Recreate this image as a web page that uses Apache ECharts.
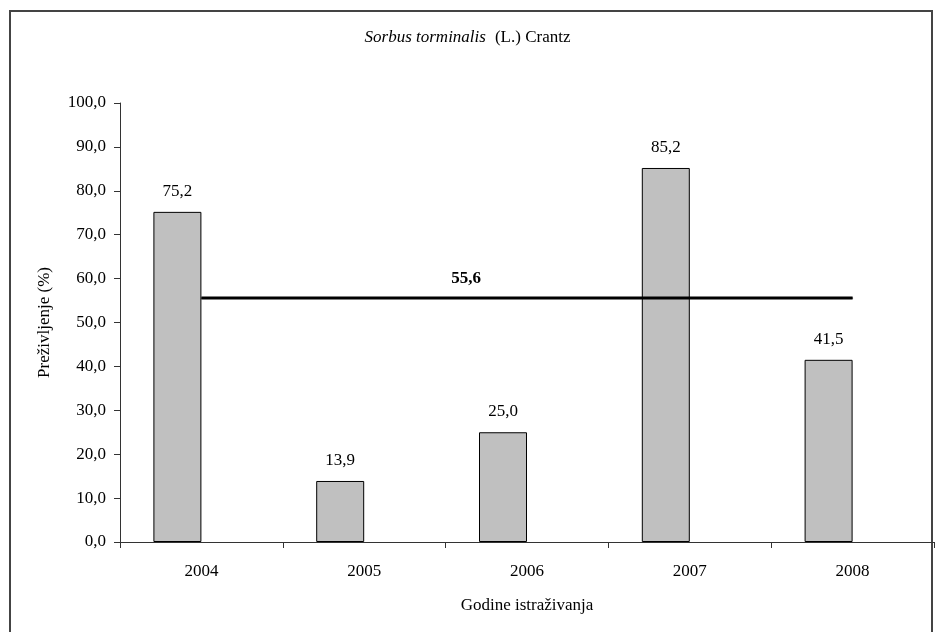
<!DOCTYPE html>
<html>
<head>
<meta charset="utf-8">
<script src="https://cdn.jsdelivr.net/npm/echarts@6/dist/echarts.min.js"></script>
<style>
    html, body { margin: 0; padding: 0; background: #fff; }
    #chart { width: 935px; height: 632px; }
</style>
</head>
<body>
<div id="chart"></div>
<script>
    // godine i prezivljenje
    var years = ['2004', '2005', '2006', '2007', '2008'];
    var survival = [75.2, 13.9, 25.0, 85.2, 41.5];
    var average = 55.6;
    var yMin = 0, yMax = 100, yStep = 10;

    var chart = echarts.init(document.getElementById('chart'));
    var font = 'Liberation Serif, Times New Roman, serif';
    var fs = 17;

    function fmt(v) {
        return Number(v).toFixed(1).replace('.', ',');
    }

    var avgData = years.map(function (y, i) {
        var item = {value: average};
        if (i === 1) {
            item.label = {
                show: true,
                position: 'top',
                distance: 10,
                offset: [102, 0],
                formatter: function () { return fmt(average); },
                fontFamily: font,
                fontSize: fs,
                fontWeight: 'bold',
                color: '#000'
            };
        }
        return item;
    });

    var option = {
        animation: false,
        backgroundColor: '#fff',
        textStyle: {fontFamily: font, color: '#000'},
        title: {
            left: 'center',
            top: 24,
            text: '{i|Sorbus torminalis}  {n|(L.) Crantz}',
            textStyle: {
                fontWeight: 'normal',
                rich: {
                    i: {fontFamily: font, fontSize: fs, fontStyle: 'italic', fontWeight: 'normal', color: '#000'},
                    n: {fontFamily: font, fontSize: fs, fontWeight: 'normal', color: '#000'}
                }
            }
        },
        graphic: [{
            type: 'rect',
            shape: {x: 10, y: 11, width: 922, height: 640},
            style: {fill: 'none', stroke: '#444', lineWidth: 2},
            silent: true
        }],
        grid: {left: 120, right: 1, top: 103, bottom: 90},
        xAxis: {
            type: 'category',
            data: years,
            boundaryGap: true,
            name: 'Godine istraživanja',
            nameLocation: 'middle',
            nameGap: 55,
            nameTextStyle: {fontFamily: font, fontSize: fs, color: '#000'},
            axisLine: {lineStyle: {color: '#333', width: 1}},
            axisTick: {show: true, length: 6, lineStyle: {color: '#333'}},
            axisLabel: {fontFamily: font, fontSize: fs, color: '#000', margin: 21}
        },
        yAxis: {
            type: 'value',
            min: yMin,
            max: yMax,
            interval: yStep,
            name: 'Preživljenje (%)',
            nameLocation: 'middle',
            nameGap: 67,
            nameTextStyle: {fontFamily: font, fontSize: fs, color: '#000'},
            axisLine: {show: true, lineStyle: {color: '#333', width: 1}},
            axisTick: {show: true, length: 6, lineStyle: {color: '#333'}},
            axisLabel: {fontFamily: font, fontSize: fs, color: '#000', margin: 14, formatter: fmt},
            splitLine: {show: false}
        },
        series: [
            {
                name: 'Preživljenje',
                type: 'bar',
                data: survival,
                barWidth: 48,
                barGap: '0%',
                itemStyle: {color: '#c0c0c0', borderColor: '#000', borderWidth: 1},
                label: {
                    show: true,
                    position: 'top',
                    distance: 12,
                    formatter: function (p) { return fmt(p.value); },
                    fontFamily: font,
                    fontSize: fs,
                    color: '#000'
                }
            },
            {
                // prazna serija - pomice stupce ulijevo kao u originalu
                name: 'prazno',
                type: 'bar',
                data: years.map(function () { return '-'; }),
                barWidth: 48,
                itemStyle: {color: 'transparent'}
            },
            {
                name: 'Prosjek',
                type: 'line',
                data: avgData,
                showSymbol: true,
                symbol: 'circle',
                symbolSize: 1,
                itemStyle: {color: '#000'},
                lineStyle: {color: '#000', width: 3},
                z: 5
            }
        ]
    };
    chart.setOption(option);
</script>
</body>
</html>
